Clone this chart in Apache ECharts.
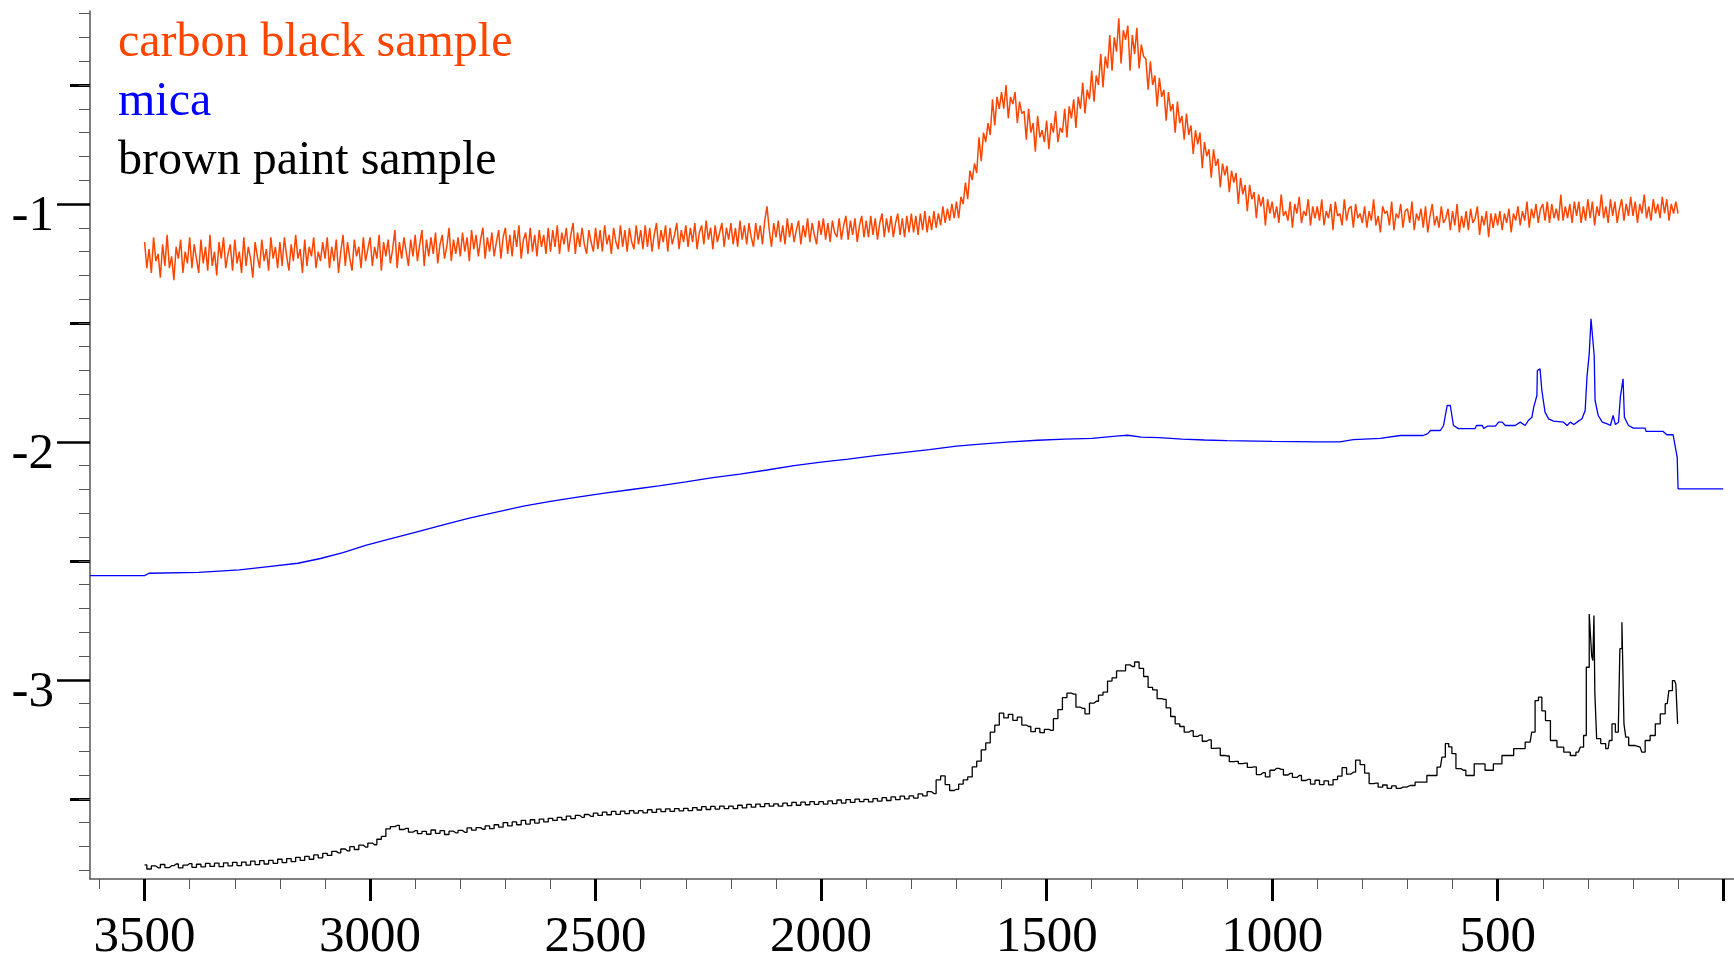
<!DOCTYPE html>
<html>
<head>
<meta charset="utf-8">
<script src="https://cdn.jsdelivr.net/npm/echarts@6/dist/echarts.min.js"></script>
<style>
html,body{margin:0;padding:0;background:#fff;}
#chart{width:1734px;height:960px;}
</style>
</head>
<body>
<div id="chart"></div>
<script>
// ---- series names & colours ----
const seriesNames = ['carbon black sample', 'mica', 'brown paint sample'];
const seriesColors = ['#FF4500', '#0000FF', '#000000'];

// ---- carbon black sample: wavenumber grid 3500 -> 100, step 5 ----
const carbonStart = 3500;
const carbonStep = 5;
const carbonY = [
-1.16,-1.27,-1.19,-1.29,-1.14,-1.24,-1.21,-1.31,-1.17,-1.26,-1.13,-1.27,-1.22,-1.32,-1.18,-1.23,-1.15,-1.29,-1.20,-1.25,
-1.14,-1.27,-1.17,-1.23,-1.29,-1.15,-1.25,-1.18,-1.28,-1.13,-1.26,-1.20,-1.30,-1.16,-1.23,-1.14,-1.27,-1.21,-1.17,-1.28,
-1.15,-1.25,-1.20,-1.29,-1.14,-1.26,-1.18,-1.23,-1.31,-1.16,-1.22,-1.27,-1.15,-1.24,-1.19,-1.28,-1.14,-1.23,-1.18,-1.27,
-1.16,-1.26,-1.14,-1.22,-1.28,-1.17,-1.24,-1.13,-1.23,-1.19,-1.29,-1.15,-1.26,-1.18,-1.22,-1.14,-1.27,-1.20,-1.24,-1.16,
-1.23,-1.14,-1.27,-1.18,-1.24,-1.15,-1.29,-1.20,-1.13,-1.26,-1.16,-1.23,-1.28,-1.15,-1.22,-1.18,-1.27,-1.14,-1.24,-1.19,
-1.14,-1.26,-1.18,-1.23,-1.13,-1.28,-1.16,-1.22,-1.15,-1.25,-1.19,-1.11,-1.27,-1.16,-1.23,-1.14,-1.20,-1.26,-1.15,-1.22,
-1.13,-1.24,-1.17,-1.11,-1.26,-1.15,-1.22,-1.14,-1.21,-1.12,-1.25,-1.17,-1.13,-1.23,-1.18,-1.10,-1.24,-1.15,-1.21,-1.14,
-1.22,-1.12,-1.20,-1.14,-1.24,-1.11,-1.19,-1.13,-1.22,-1.15,-1.10,-1.23,-1.14,-1.20,-1.12,-1.22,-1.16,-1.11,-1.23,-1.14,
-1.10,-1.21,-1.13,-1.22,-1.11,-1.18,-1.09,-1.23,-1.15,-1.12,-1.21,-1.10,-1.20,-1.13,-1.22,-1.11,-1.18,-1.13,-1.21,-1.10,
-1.20,-1.11,-1.18,-1.09,-1.21,-1.12,-1.17,-1.10,-1.20,-1.13,-1.08,-1.21,-1.12,-1.18,-1.10,-1.17,-1.21,-1.11,-1.16,-1.20,
-1.10,-1.19,-1.11,-1.20,-1.09,-1.17,-1.13,-1.21,-1.10,-1.16,-1.19,-1.09,-1.18,-1.11,-1.20,-1.10,-1.16,-1.19,-1.09,-1.17,
-1.11,-1.19,-1.09,-1.18,-1.10,-1.20,-1.13,-1.08,-1.19,-1.11,-1.16,-1.09,-1.20,-1.10,-1.17,-1.13,-1.08,-1.19,-1.11,-1.16,
-1.09,-1.18,-1.10,-1.16,-1.08,-1.19,-1.12,-1.09,-1.17,-1.07,-1.15,-1.10,-1.19,-1.09,-1.16,-1.12,-1.08,-1.18,-1.10,-1.15,
-1.08,-1.17,-1.10,-1.18,-1.07,-1.15,-1.09,-1.17,-1.08,-1.14,-1.18,-1.08,-1.15,-1.09,-1.17,-1.07,-1.01,-1.11,-1.18,-1.08,
-1.14,-1.07,-1.16,-1.09,-1.17,-1.06,-1.14,-1.08,-1.16,-1.11,-1.07,-1.17,-1.09,-1.14,-1.06,-1.16,-1.08,-1.13,-1.17,-1.07,
-1.13,-1.06,-1.15,-1.08,-1.16,-1.07,-1.12,-1.14,-1.06,-1.15,-1.09,-1.05,-1.15,-1.07,-1.13,-1.06,-1.16,-1.09,-1.05,-1.14,
-1.07,-1.14,-1.05,-1.13,-1.06,-1.15,-1.08,-1.04,-1.14,-1.06,-1.12,-1.05,-1.14,-1.08,-1.04,-1.13,-1.06,-1.14,-1.05,-1.12,
-1.04,-1.12,-1.05,-1.13,-1.04,-1.11,-1.03,-1.12,-1.05,-1.11,-1.03,-1.10,-1.04,-1.09,-1.01,-1.08,-1.02,-1.07,-1.00,-1.06,
-0.99,-1.06,-0.97,-1.00,-0.91,-0.98,-0.86,-0.90,-0.83,-0.87,-0.72,-0.82,-0.70,-0.74,-0.66,-0.71,-0.56,-0.67,-0.55,-0.60,
-0.53,-0.60,-0.50,-0.64,-0.55,-0.58,-0.53,-0.66,-0.57,-0.62,-0.61,-0.73,-0.60,-0.70,-0.66,-0.78,-0.63,-0.72,-0.69,-0.74,
-0.65,-0.77,-0.66,-0.70,-0.61,-0.74,-0.68,-0.70,-0.60,-0.72,-0.59,-0.64,-0.56,-0.68,-0.55,-0.60,-0.49,-0.62,-0.52,-0.56,
-0.44,-0.57,-0.46,-0.50,-0.37,-0.51,-0.38,-0.43,-0.29,-0.44,-0.30,-0.36,-0.22,-0.41,-0.27,-0.31,-0.25,-0.44,-0.29,-0.37,
-0.26,-0.43,-0.33,-0.38,-0.39,-0.52,-0.40,-0.50,-0.46,-0.59,-0.47,-0.55,-0.52,-0.65,-0.53,-0.61,-0.58,-0.70,-0.57,-0.66,
-0.63,-0.73,-0.62,-0.71,-0.67,-0.79,-0.69,-0.75,-0.70,-0.85,-0.74,-0.80,-0.77,-0.89,-0.77,-0.84,-0.81,-0.93,-0.83,-0.88,
-0.84,-0.95,-0.86,-0.91,-0.87,-1.00,-0.89,-0.96,-0.92,-1.03,-0.92,-0.98,-0.95,-1.06,-0.96,-1.01,-0.97,-1.09,-0.98,-1.04,
-0.99,-1.06,-1.01,-1.08,-0.96,-1.05,-1.03,-1.07,-0.99,-1.10,-1.00,-1.04,-0.97,-1.08,-1.03,-1.05,-0.98,-1.09,-1.01,-1.06,
-1.01,-1.07,-0.98,-1.09,-1.03,-1.06,-1.00,-1.11,-0.99,-1.05,-1.04,-1.09,-0.98,-1.07,-1.02,-1.01,-1.10,-1.00,-1.06,-1.04,
-1.08,-1.01,-1.10,-1.03,-1.07,-0.98,-1.09,-1.05,-1.12,-1.01,-1.04,-1.03,-1.09,-0.99,-1.11,-1.04,-1.06,-1.00,-1.10,-1.03,
-1.02,-1.08,-0.99,-1.11,-1.04,-1.07,-1.02,-1.10,-1.01,-1.12,-1.05,-1.00,-1.09,-1.05,-1.10,-1.01,-1.08,-1.06,-1.02,-1.11,
-1.03,-1.09,-1.00,-1.12,-1.05,-1.10,-1.03,-1.11,-1.02,-1.08,-1.06,-1.01,-1.13,-1.05,-1.09,-1.03,-1.14,-1.04,-1.10,-1.04,
-1.09,-1.03,-1.11,-1.04,-1.08,-1.02,-1.12,-1.04,-1.07,-1.01,-1.09,-1.03,-1.07,-0.99,-1.10,-1.02,-1.06,-1.00,-1.08,-1.02,
-1.00,-1.07,-0.99,-1.08,-1.00,-1.06,-1.02,-1.07,-0.96,-1.07,-1.01,-1.06,-1.00,-1.08,-0.99,-1.05,-0.99,-1.08,-1.01,-1.07,
-0.98,-1.06,-0.99,-1.09,-1.01,-1.05,-0.96,-1.06,-1.01,-1.08,-0.98,-1.05,-0.99,-1.08,-1.02,-0.98,-1.07,-1.00,-1.05,-0.97,
-1.05,-0.99,-1.08,-1.00,-1.04,-0.96,-1.06,-1.01,-1.07,-0.98,-1.04,-1.00,-1.06,-0.97,-1.04,-0.98,-1.07,-1.00,-1.04,-0.99,
-1.04
];

// ---- mica ----
const micaX = [3621,3500,3490,3380,3290,3230,3160,3110,3060,3010,2960,2900,2840,2780,2720,2660,2600,2540,2480,2420,
2360,2300,2240,2180,2120,2060,2000,1940,1880,1820,1760,1700,1640,1580,1520,1460,1400,1340,1320,1290,
1250,1200,1150,1100,1000,900,850,820,760,716,665,655,649,627,620,612,605,598,587,550,
547,534,531,523,505,498,490,483,461,450,439,432,424,420,413,412,406,402,395,387,
376,354,346,339,331,324,313,306,302,297,293,286,284,277,268,257,250,244,239,232,
228,222,219,210,199,173,171,133,125,111,102,100,0];
const micaY = [-2.562,-2.562,-2.552,-2.548,-2.538,-2.525,-2.510,-2.490,-2.465,-2.435,-2.410,-2.380,-2.350,-2.320,-2.295,-2.270,-2.250,-2.232,-2.215,-2.200,
-2.185,-2.168,-2.150,-2.135,-2.118,-2.100,-2.085,-2.072,-2.058,-2.045,-2.032,-2.018,-2.008,-2.000,-1.993,-1.988,-1.985,-1.975,-1.972,-1.980,
-1.982,-1.988,-1.992,-1.995,-1.998,-2.000,-2.000,-1.990,-1.985,-1.973,-1.973,-1.965,-1.952,-1.952,-1.931,-1.847,-1.847,-1.931,-1.944,-1.944,
-1.931,-1.931,-1.944,-1.934,-1.934,-1.917,-1.917,-1.931,-1.931,-1.917,-1.931,-1.910,-1.896,-1.854,-1.805,-1.700,-1.693,-1.784,-1.875,-1.903,
-1.913,-1.917,-1.931,-1.917,-1.927,-1.917,-1.903,-1.868,-1.728,-1.630,-1.483,-1.637,-1.826,-1.889,-1.917,-1.924,-1.931,-1.889,-1.927,-1.917,
-1.812,-1.735,-1.896,-1.931,-1.942,-1.942,-1.956,-1.956,-1.970,-1.970,-2.064,-2.197,-2.197];

// ---- brown paint sample: grid 3500 -> 720 step 10, then detailed tail ----
const paintStart = 3500;
const paintStep = 10;
const paintY = [
-3.778,-3.795,-3.782,-3.790,-3.776,-3.789,-3.781,-3.774,-3.790,-3.779,
-3.772,-3.788,-3.775,-3.786,-3.771,-3.784,-3.770,-3.785,-3.769,-3.782,
-3.767,-3.781,-3.766,-3.779,-3.762,-3.777,-3.760,-3.774,-3.759,-3.771,
-3.754,-3.768,-3.751,-3.764,-3.746,-3.759,-3.742,-3.754,-3.736,-3.748,
-3.729,-3.738,-3.721,-3.727,-3.711,-3.719,-3.701,-3.713,-3.695,-3.703,
-3.686,-3.693,-3.670,-3.658,-3.626,-3.617,-3.612,-3.629,-3.624,-3.640,
-3.634,-3.646,-3.637,-3.649,-3.631,-3.645,-3.634,-3.650,-3.636,-3.643,
-3.633,-3.641,-3.622,-3.632,-3.621,-3.628,-3.614,-3.625,-3.609,-3.619,
-3.600,-3.614,-3.597,-3.609,-3.591,-3.606,-3.588,-3.602,-3.585,-3.597,
-3.582,-3.591,-3.578,-3.588,-3.573,-3.583,-3.570,-3.578,-3.566,-3.574,
-3.560,-3.570,-3.556,-3.567,-3.553,-3.565,-3.552,-3.562,-3.550,-3.560,
-3.550,-3.559,-3.546,-3.557,-3.543,-3.554,-3.542,-3.553,-3.541,-3.551,
-3.540,-3.550,-3.537,-3.547,-3.533,-3.545,-3.532,-3.543,-3.531,-3.541,
-3.531,-3.541,-3.527,-3.538,-3.523,-3.535,-3.522,-3.533,-3.520,-3.531,
-3.521,-3.531,-3.518,-3.529,-3.515,-3.527,-3.514,-3.525,-3.512,-3.523,
-3.512,-3.522,-3.509,-3.520,-3.505,-3.518,-3.503,-3.515,-3.501,-3.512,
-3.502,-3.513,-3.499,-3.510,-3.495,-3.507,-3.492,-3.503,-3.489,-3.500,
-3.488,-3.497,-3.479,-3.488,-3.470,-3.478,-3.420,-3.404,-3.440,-3.465,
-3.460,-3.438,-3.420,-3.408,-3.366,-3.342,-3.294,-3.265,-3.220,-3.190,
-3.140,-3.160,-3.145,-3.170,-3.157,-3.190,-3.196,-3.218,-3.204,-3.222,
-3.208,-3.212,-3.163,-3.125,-3.075,-3.056,-3.060,-3.115,-3.120,-3.143,
-3.098,-3.090,-3.064,-3.052,-3.005,-2.992,-2.962,-2.962,-2.937,-2.944,
-2.925,-2.952,-2.986,-3.032,-3.042,-3.079,-3.082,-3.118,-3.154,-3.185,
-3.196,-3.220,-3.214,-3.238,-3.232,-3.258,-3.252,-3.288,-3.287,-3.318,
-3.320,-3.344,-3.343,-3.352,-3.350,-3.368,-3.366,-3.398,-3.390,-3.408,
-3.380,-3.372,-3.376,-3.400,-3.393,-3.410,-3.402,-3.423,-3.418,-3.438,
-3.422,-3.440,-3.425,-3.441,-3.419,-3.405,-3.369,-3.396,-3.388,-3.337,
-3.356,-3.392,-3.436,-3.434,-3.451,-3.442,-3.456,-3.446,-3.456
];
const paintTailX = [710,694,672,642,627,620,612,605,598,587,576,565,539,517,502,479,450,428,421,413,
406,398,390,376,361,346,332,321,313,306,301,293,290,288,285,284,277,266,255,250,
243,235,230,228,221,219,213,206,184,177,169,155,146,133,124,117,108,102,100];
const paintTailY = [-3.451,-3.444,-3.430,-3.402,-3.367,-3.325,-3.268,-3.282,-3.310,-3.373,-3.380,-3.402,-3.353,-3.380,-3.353,-3.318,-3.289,-3.262,-3.220,-3.087,
-3.073,-3.130,-3.171,-3.255,-3.283,-3.304,-3.318,-3.304,-3.283,-3.234,-2.947,-2.723,-2.900,-2.919,-2.730,-3.058,-3.247,-3.268,-3.289,-3.255,
-3.185,-3.220,-3.200,-2.869,-2.758,-3.185,-3.241,-3.276,-3.283,-3.304,-3.255,-3.234,-3.185,-3.143,-3.100,-3.045,-3.003,-3.017,-3.185];

// ---- axes ----
const xMin = -24, xMax = 3621;
const yMin = -3.837, yMax = -0.189;
const xMajorTicks = [3500,3000,2500,2000,1500,1000,500,0];
const xLabelValues = [3500,3000,2500,2000,1500,1000,500];
const xMinorTicks = [3600,3400,3300,3200,3100,2900,2800,2700,2600,2400,2300,2200,2100,1900,1800,1700,1600,
  1400,1300,1200,1100,900,800,700,600,400,300,200,100];
const yMajorTicks = [-1,-2,-3];
const yMediumTicks = [-0.5,-1.5,-2.5,-3.5];
const yMinorTicks = [-0.2,-0.3,-0.4,-0.5,-0.6,-0.7,-0.8,-0.9,-1.1,-1.2,-1.3,-1.4,-1.5,-1.6,-1.7,-1.8,-1.9,
  -2.1,-2.2,-2.3,-2.4,-2.5,-2.6,-2.7,-2.8,-2.9,-3.1,-3.2,-3.3,-3.4,-3.5,-3.6,-3.7,-3.8];

// ---- build data pairs ----
const carbonData = carbonY.map((v, i) => [carbonStart - i * carbonStep, v]);
const micaData = micaX.map((x, i) => [x, micaY[i]]);
const paintData = paintY.map((v, i) => [paintStart - i * paintStep, v])
  .concat(paintTailX.map((x, i) => [x, paintTailY[i]]));

const FONT = 'Liberation Serif';
const chart = echarts.init(document.getElementById('chart'), null, {renderer: 'canvas'});

function xAx(ticks, len, width, color, showLine, labels) {
  return {
    type: 'value', gridIndex: 0, position: 'bottom', inverse: true,
    min: xMin, max: xMax, splitLine: {show: false},
    axisLine: {show: showLine, onZero: false, lineStyle: {color: '#555', width: 1.5}},
    axisTick: {show: true, inside: false, length: len, customValues: ticks, lineStyle: {color: color, width: width}},
    axisLabel: labels ? {show: true, customValues: labels, margin: 33, color: '#000',
      fontFamily: FONT, fontSize: 51, formatter: v => String(v)} : {show: false}
  };
}
function yAx(ticks, len, width, color, showLine, labels) {
  return {
    type: 'value', gridIndex: 0, position: 'left',
    min: yMin, max: yMax, splitLine: {show: false},
    axisLine: {show: showLine, onZero: false, lineStyle: {color: '#555', width: 1.5}},
    axisTick: {show: true, inside: false, length: len, customValues: ticks, lineStyle: {color: color, width: width}},
    axisLabel: labels ? {show: true, customValues: labels, margin: 36, color: '#000',
      fontFamily: FONT, fontSize: 51, verticalAlign: 'top', lineHeight: 25,
      formatter: v => String(v)} : {show: false}
  };
}

chart.setOption({
  animation: false,
  backgroundColor: '#fff',
  grid: {left: 90, right: 0, top: 11, bottom: 81, containLabel: false, outerBoundsMode: 'none'},
  legend: {
    orient: 'vertical', left: 113, top: 14, icon: 'none', itemWidth: 0, itemHeight: 10,
    itemGap: 0, selectedMode: false, padding: 0,
    textStyle: {fontFamily: FONT, fontSize: 48, lineHeight: 59},
    data: seriesNames.map((n, i) => ({name: n, textStyle: {color: seriesColors[i]}}))
  },
  xAxis: [
    xAx(xMajorTicks, 22, 3, '#000', true, xLabelValues),
    xAx(xMinorTicks, 10, 1, '#555', false, null)
  ],
  yAxis: [
    yAx(yMajorTicks, 33, 2.5, '#000', true, yMajorTicks),
    yAx(yMediumTicks, 20, 3, '#000', false, null),
    yAx(yMinorTicks, 11, 1, '#555', false, null)
  ],
  series: [
    {name: seriesNames[0], type: 'line', data: carbonData, showSymbol: false, symbol: 'none',
     lineStyle: {color: seriesColors[0], width: 1.5}, itemStyle: {color: seriesColors[0]}, sampling: null, clip: true},
    {name: seriesNames[1], type: 'line', data: micaData, showSymbol: false, symbol: 'none',
     lineStyle: {color: seriesColors[1], width: 1.3}, itemStyle: {color: seriesColors[1]}, clip: true},
    {name: seriesNames[2], type: 'line', data: paintData, showSymbol: false, symbol: 'none', step: 'middle',
     lineStyle: {color: seriesColors[2], width: 1.3}, itemStyle: {color: seriesColors[2]}, clip: true}
  ]
});
</script>
</body>
</html>
